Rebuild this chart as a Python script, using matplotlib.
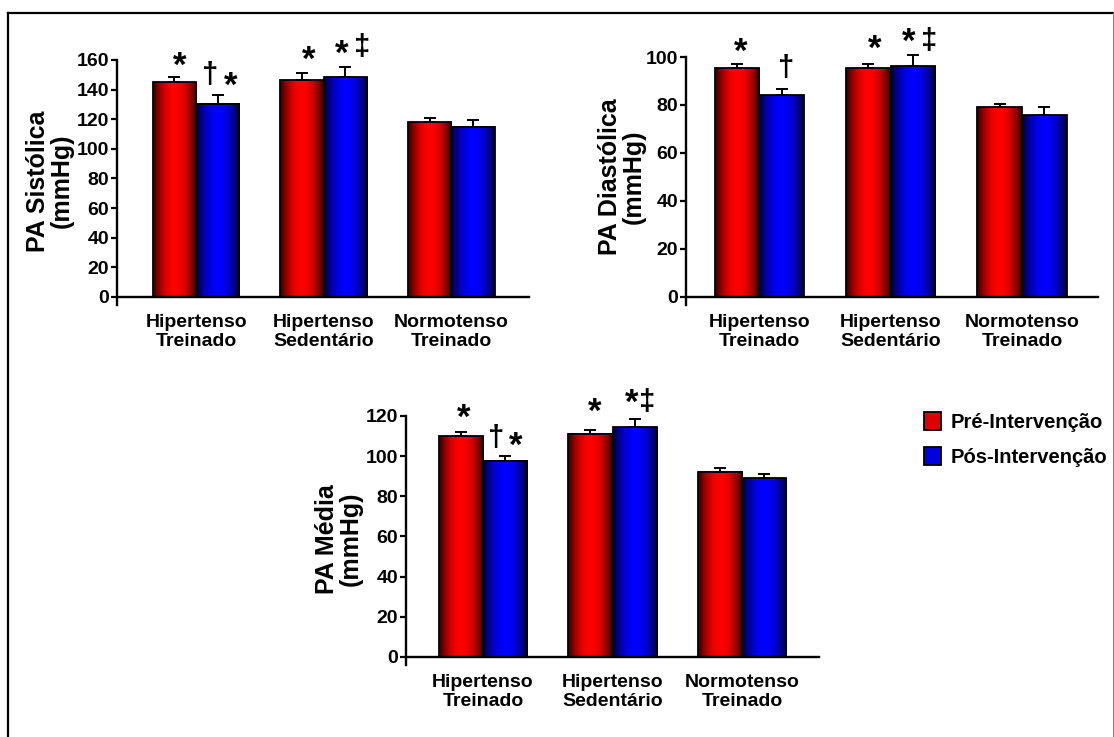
import numpy as np
import matplotlib
matplotlib.use("Agg")
import matplotlib.pyplot as plt
from matplotlib.patches import Patch
from matplotlib.lines import Line2D

plt.rcParams["font.family"] = ["Liberation Sans", "DejaVu Sans"]
plt.rcParams["font.weight"] = "bold"

grupos = ["Hipertenso\nTreinado", "Hipertenso\nSedentário", "Normotenso\nTreinado"]
series = ["Pré-Intervenção", "Pós-Intervenção"]

# PA sistolica
sis_pre = [145, 146.5, 118]
sis_pre_err = [3.3, 4.8, 2.8]
sis_pos = [130.5, 148.5, 115]
sis_pos_err = [5.6, 6.8, 4.6]

# PA diastolica
dia_pre = [95.3, 95.3, 79.2]
dia_pre_err = [1.6, 1.6, 1.0]
dia_pos = [84.2, 96.2, 75.8]
dia_pos_err = [2.5, 4.6, 3.4]

# PA media
med_pre = [109.9, 111.2, 92.2]
med_pre_err = [2.2, 2.0, 2.1]
med_pos = [97.8, 114.4, 88.9]
med_pos_err = [2.2, 4.3, 2.1]

W, H = 1114, 737
fig = plt.figure(figsize=(W / 100, H / 100), dpi=100)


def ax_px(left, right, top, bottom):
    return fig.add_axes([left / W, 1 - bottom / H, (right - left) / W, (bottom - top) / H])


def gradiente(cor, n=64):
    t = np.linspace(0, 1, n)
    f = 0.15 + 0.85 * np.sin(np.pi * t) ** 0.8
    img = np.zeros((1, n, 3))
    img[0, :, cor] = f
    return img


def painel(ax, pre, pre_err, pos, pos_err, ymax, yticks, xlim, ylim_low):
    x = np.arange(len(grupos))
    w = 0.34
    for vals, errs, dx, cor in [(pre, pre_err, -w / 2, 0), (pos, pos_err, w / 2, 2)]:
        bars = ax.bar(x + dx, vals, w, facecolor="none", edgecolor="black", linewidth=1.3, zorder=3)
        img = gradiente(cor)
        for b in bars:
            ax.imshow(img, extent=[b.get_x(), b.get_x() + b.get_width(), 0, b.get_height()],
                      aspect="auto", interpolation="bicubic", zorder=2)
        eb = ax.errorbar(x + dx, vals, yerr=[np.zeros(len(vals)), errs], fmt="none", ecolor="black",
                         elinewidth=1.4, capsize=4.5, capthick=1.4, zorder=4)
        for art in eb.lines[1] + eb.lines[2]:
            art.set_clip_on(False)
    ax.set_xlim(*xlim)
    ax.set_ylim(ylim_low, ymax)
    ax.set_yticks(yticks)
    ax.set_xticks(x)
    ax.set_xticklabels(grupos, linespacing=1.3)
    ax.tick_params(axis="x", length=0, pad=12, labelsize=14)
    ax.tick_params(axis="y", length=4, width=1.6, pad=1.5, labelsize=14)
    for lab in ax.get_yticklabels() + ax.get_xticklabels():
        lab.set_fontweight("bold")
    for s in ["top", "right"]:
        ax.spines[s].set_visible(False)
    ax.spines["left"].set_linewidth(1.7)
    ax.spines["bottom"].set_linewidth(1.7)
    ax.spines["bottom"].set_position(("data", 0))
    ax.spines["left"].set_bounds(ylim_low, ymax)
    ax.set_facecolor("none")


ax1 = ax_px(117, 529, 60, 305)
painel(ax1, sis_pre, sis_pre_err, sis_pos, sis_pos_err, 160, range(0, 161, 20), (-0.62, 2.61), -5.5)

ax2 = ax_px(686, 1098, 57, 305)
painel(ax2, dia_pre, dia_pre_err, dia_pos, dia_pos_err, 100, range(0, 101, 20), (-0.56, 2.58), -3.4)

ax3 = ax_px(406, 819, 416, 665)
painel(ax3, med_pre, med_pre_err, med_pos, med_pos_err, 120, range(0, 121, 20), (-0.595, 2.595), -4.0)

# marcas de significancia
for ax, marcas in [
    (ax1, [(-0.13, 156, "*"), (0.11, 150, "†"), (0.275, 142.5, "*"), (0.88, 160, "*"),
           (1.14, 164, "*"), (1.30, 169, "‡")]),
    (ax2, [(-0.14, 102, "*"), (0.205, 95.5, "†"), (0.88, 103, "*"), (1.14, 106, "*"),
           (1.29, 106.5, "‡")]),
    (ax3, [(-0.15, 119, "*"), (0.10, 109, "†"), (0.25, 105, "*"), (0.86, 122, "*"),
           (1.145, 126.5, "*"), (1.27, 127, "‡")]),
]:
    for xx, yy, s in marcas:
        tam = 25 if s == "*" else 21
        ax.text(xx, yy, s, ha="center", va="center", fontsize=tam, fontweight="bold",
                zorder=5, clip_on=False)

# rotulos do eixo y
for xp, yp, txt in [(50, 181, "PA Sistólica\n(mmHg)"), (622, 177, "PA Diastólica\n(mmHg)"),
                    (339, 539, "PA Média\n(mmHg)")]:
    fig.text(xp / W, 1 - yp / H, txt, rotation=90, ha="center", va="center", fontsize=18,
             fontweight="bold", linespacing=1.0, multialignment="center")

# legenda
handles = [Patch(facecolor="#e00000", edgecolor="black", linewidth=1.3),
           Patch(facecolor="#0000e0", edgecolor="black", linewidth=1.3)]
fig.legend(handles, series, loc="upper left", bbox_to_anchor=(920 / W, 1 - 408 / H),
           frameon=False, handlelength=0.85, handleheight=1.0,
           handletextpad=0.45, labelspacing=0.75, borderaxespad=0, borderpad=0.2,
           prop={"weight": "bold", "size": 14.5})

# moldura
fig.add_artist(Line2D([8 / W, 1113 / W], [1 - 13 / H, 1 - 13 / H], color="black", lw=1.6))
fig.add_artist(Line2D([8 / W, 8 / W], [1 - 13 / H, 0], color="black", lw=1.6))
fig.add_artist(Line2D([1113 / W, 1113 / W], [1 - 13 / H, 0], color="#888888", lw=0.8))

fig.savefig("out.png", dpi=100)
